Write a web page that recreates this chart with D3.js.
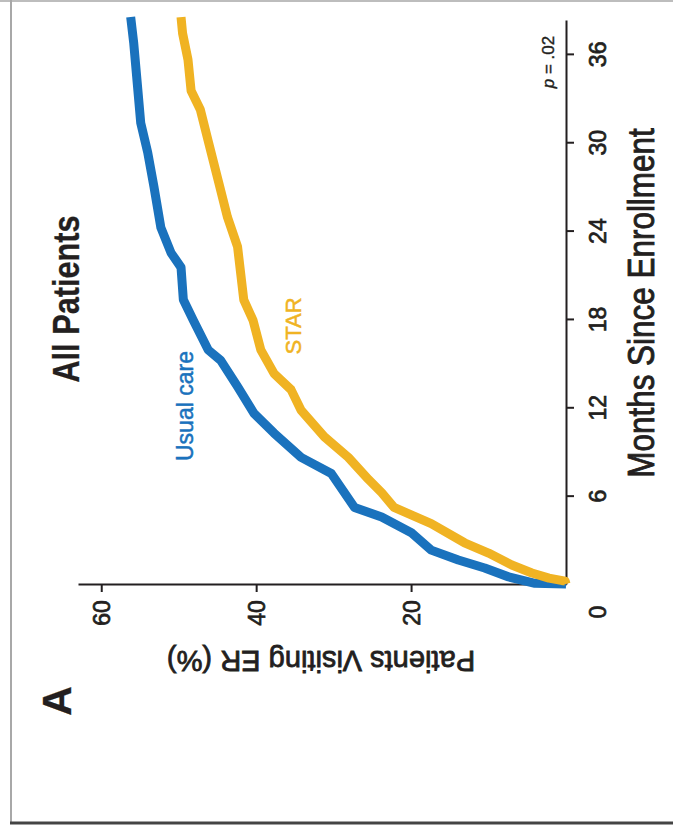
<!DOCTYPE html>
<html>
<head>
<meta charset="utf-8">
<script src="https://cdn.jsdelivr.net/npm/d3@7"></script>
<style>
  body { margin: 0; background: #fff; }
  svg { display: block; }
</style>
</head>
<body>
<svg id="chart"></svg>
<script>
// the whole figure is turned a quarter turn counter-clockwise:
// months run bottom -> top, percent runs right -> left

// [months since enrollment, % patients visiting ER]
var usualCare = [
  [0, 0], [0.05, 4.0], [0.48, 7.4], [1.09, 10.5], [1.63, 13.9], [2.3, 17.4],
  [3.46, 19.9], [4.55, 23.8], [5.2, 27.3], [6.2, 28.6], [7.5, 30.3],
  [8.6, 34.2], [10.25, 37.7], [11.6, 40.3], [13.4, 42.4], [15.2, 44.6],
  [15.9, 46.2], [17.9, 48.1], [19.3, 49.4], [21.5, 49.7], [22.5, 51.0],
  [24.2, 52.3], [27.0, 53.2], [29.3, 54.0], [31.3, 54.9], [33.7, 55.3],
  [36.7, 55.8], [38.5, 56.2]
];
var star = [
  [0, 0], [0.2, 0.1], [0.4, 2.2], [0.75, 4.4], [1.29, 7.0], [2.1, 10.0],
  [2.8, 13.1], [4.1, 17.4], [5.2, 22.2], [6.2, 23.8], [7.1, 25.5],
  [8.6, 28.1], [10.0, 31.2], [11.8, 34.2], [13.2, 35.5], [14.3, 37.7],
  [15.9, 39.4], [17.9, 40.4], [19.3, 41.6], [22.9, 42.4], [24.9, 43.7],
  [27.4, 44.9], [30.1, 46.2], [32.2, 47.2], [33.5, 48.4], [35.6, 48.8],
  [37.4, 49.5], [38.5, 49.7]
];
var monthTicks = [6, 12, 18, 24, 30, 36];
var erTicks = [20, 40, 60];

var W = 673, H = 832;
var blue = "#1a72bd", gold = "#f0b323", ink = "#231f20";
var font = "'Liberation Sans', Arial, sans-serif";

var svg = d3.select("#chart").attr("width", W).attr("height", H);

// frame
svg.append("line").attr("x1", 0).attr("x2", W).attr("y1", 1).attr("y2", 1)
  .attr("stroke", "#bdbdbd").attr("stroke-width", 2);
svg.append("line").attr("x1", 11).attr("x2", 11).attr("y1", 0).attr("y2", 823)
  .attr("stroke", "#a8a8a8").attr("stroke-width", 2);
svg.append("line").attr("x1", 10).attr("x2", W).attr("y1", 823).attr("y2", 823)
  .attr("stroke", "#444").attr("stroke-width", 3);

var x = d3.scaleLinear().domain([0, 63]).range([566, 78]);   // % visiting ER
var y = d3.scaleLinear().domain([0, 38.3]).range([584, 20]); // months

// percent axis (along the bottom)
var xAxis = svg.append("g")
  .attr("transform", "translate(0,584)")
  .call(d3.axisBottom(x).tickValues(erTicks).tickSize(8).tickSizeOuter(0));
// months axis (along the right)
var yAxis = svg.append("g")
  .attr("transform", "translate(566,0)")
  .call(d3.axisRight(y).tickValues(monthTicks).tickSize(8).tickSizeOuter(0));

[xAxis, yAxis].forEach(function(g) {
  g.selectAll("path, line").attr("stroke", ink).attr("stroke-width", 2);
  g.selectAll("text")
    .attr("x", 0).attr("y", 0).attr("dy", "0.35em")
    .attr("text-anchor", "middle")
    .attr("fill", ink).attr("stroke", ink).attr("stroke-width", 0.7)
    .style("font-family", font).style("font-size", "23px");
});
xAxis.selectAll("text").attr("transform", "translate(0,29) rotate(-90)");
yAxis.selectAll("text").attr("transform", "translate(32,0) rotate(-90)");

// curves
var line = d3.line()
  .x(function(d) { return x(d[1]); })
  .y(function(d) { return y(d[0]); });

svg.append("path")
  .attr("d", line(usualCare))
  .attr("fill", "none").attr("stroke", blue).attr("stroke-width", 9)
  .attr("stroke-linejoin", "round");
svg.append("path")
  .attr("d", line(star))
  .attr("fill", "none").attr("stroke", gold).attr("stroke-width", 9)
  .attr("stroke-linejoin", "round");

// labels: rotated, optionally squeezed along the reading direction
function label(tx, ty, rot, txt, size, opt) {
  opt = opt || {};
  var col = opt.color || ink;
  return svg.append("text")
    .attr("transform", "translate(" + tx + "," + ty + ") rotate(" + rot + ") scale(" + (opt.sx || 1) + ",1)")
    .attr("text-anchor", "middle").attr("dy", "0.35em")
    .attr("fill", col).attr("stroke", col).attr("stroke-width", opt.sw || 0.6)
    .style("font-family", font).style("font-size", size + "px")
    .style("font-weight", opt.weight || "normal")
    .text(txt);
}

// shared zero at the corner
label(598, 612, -90, "0", 23, {sw: 0.7});

label(66, 299, -90, "All Patients", 37, {weight: "bold", sx: 0.83, sw: 0.3});
label(57, 701, -90, "A", 41, {weight: "bold", sw: 0.3});
label(321, 662, 180, "Patients Visiting ER (%)", 30, {sx: 0.97, sw: 0.8});
label(641, 303, -90, "Months Since Enrollment", 37, {sx: 0.85, sw: 0.9});
label(185, 406, -90, "Usual care", 24, {color: blue, sx: 0.96, sw: 0.5});
label(293, 326, -90, "STAR", 22, {color: gold, sw: 0.5});

var pval = label(548, 62, -90, "", 17, {sw: 0.4});
pval.append("tspan").style("font-style", "italic").text("p");
pval.append("tspan").text(" = .02");
</script>
</body>
</html>
